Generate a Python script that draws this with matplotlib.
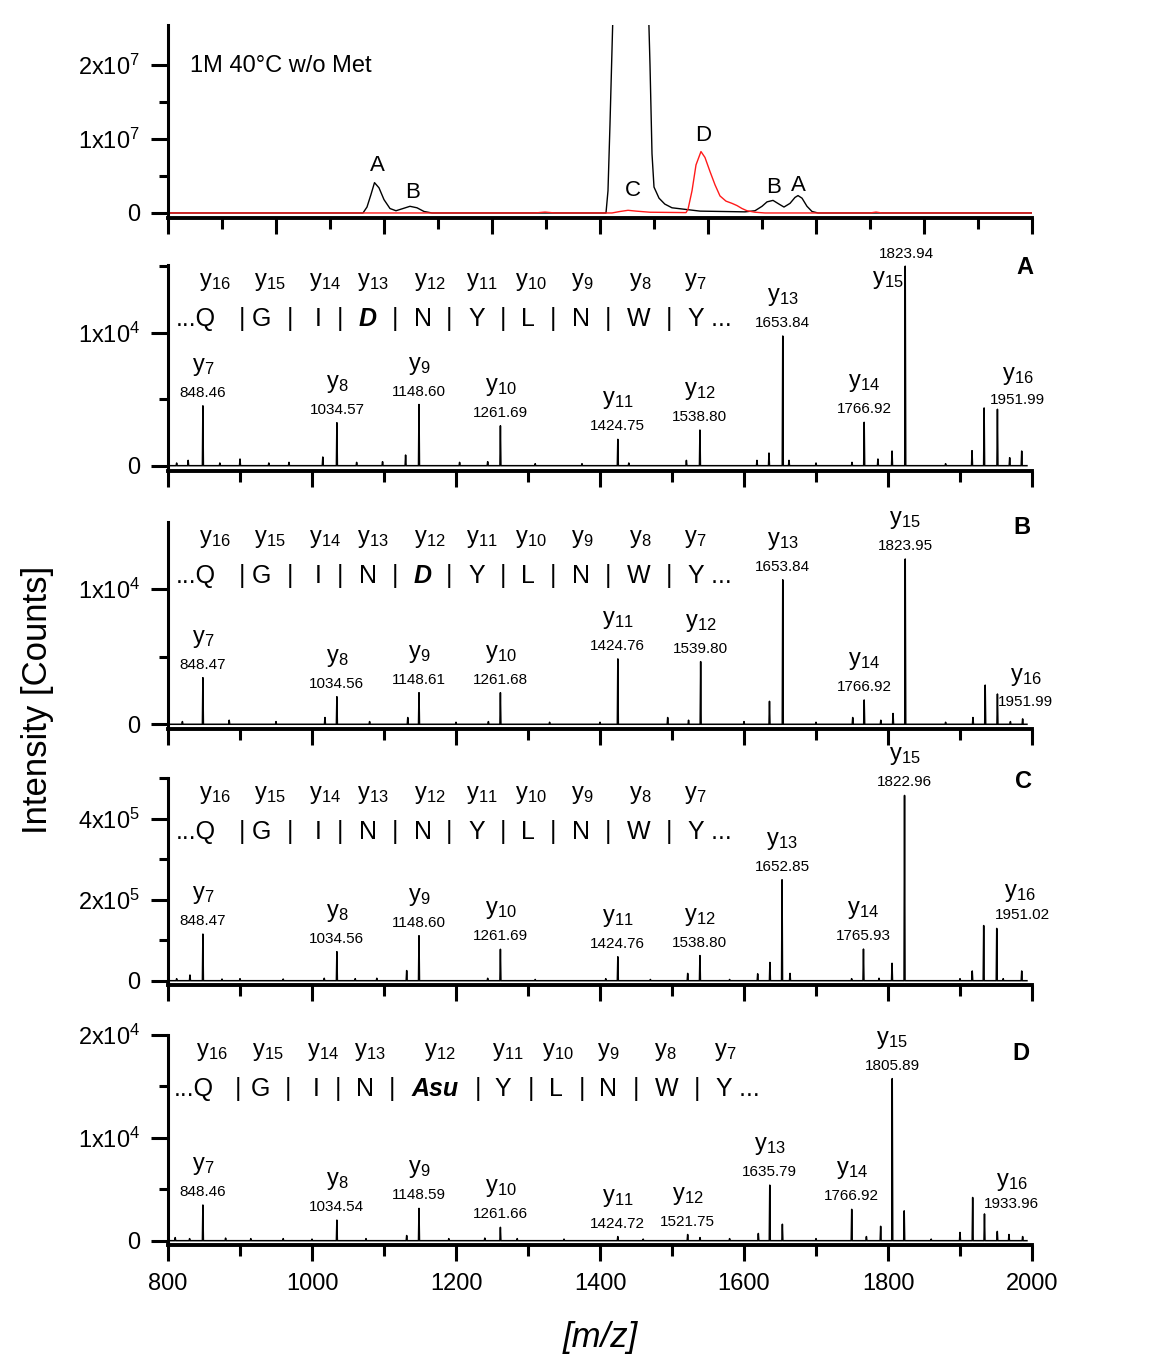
import numpy as np
import matplotlib
matplotlib.use('Agg')
import matplotlib.pyplot as plt

plt.rcParams['font.family'] = ['Liberation Sans', 'DejaVu Sans']
plt.rcParams['mathtext.fontset'] = 'custom'
plt.rcParams['mathtext.rm'] = 'Liberation Sans'
plt.rcParams['mathtext.it'] = 'Liberation Sans:italic'
plt.rcParams['mathtext.bf'] = 'Liberation Sans:bold'

# ---- chromatogram (top panel), retention time in arbitrary units, intensity in counts
lc_t_black = [0, 3.611, 3.685, 3.759, 3.824, 3.907, 4.0, 4.111, 4.222, 4.352, 4.481, 4.611, 4.741, 4.889,
              8.111, 8.148, 8.185, 8.222, 8.259, 8.37, 8.593, 8.796, 8.87, 8.926, 8.963, 9.0, 9.093,
              9.2, 9.333, 9.852, 10.685, 10.87, 11.0, 11.093, 11.204, 11.315, 11.407, 11.519, 11.611,
              11.667, 11.741, 11.833, 11.926, 12.037, 16]
lc_black = [0, 0, 0.08e7, 0.25e7, 0.41e7, 0.34e7, 0.18e7, 0.06e7, 0.03e7, 0.06e7, 0.09e7, 0.07e7, 0.02e7, 0,
            0, 0.3e7, 1.2e7, 2.2e7, 3.2e7, 5e7, 6e7, 5e7, 3.5e7, 2.0e7, 0.8e7, 0.35e7, 0.2e7,
            0.12e7, 0.07e7, 0.025e7, 0.015e7, 0.03e7, 0.09e7, 0.15e7, 0.17e7, 0.12e7, 0.08e7, 0.13e7, 0.21e7,
            0.235e7, 0.20e7, 0.09e7, 0.02e7, 0, 0]
lc_t_red = [0, 6.796, 6.981, 7.167, 8.222, 8.37, 8.519, 8.667, 8.926, 9.593, 9.63, 9.704, 9.778, 9.87,
            9.944, 10.037, 10.13, 10.222, 10.333, 10.444, 10.537, 10.63, 10.722, 10.87, 11.056,
            13.0, 13.111, 13.222, 16]
lc_red = [0, 0, 0.012e7, 0, 0, 0.02e7, 0.036e7, 0.025e7, 0.01e7, 0.005e7, 0.05e7, 0.3e7, 0.65e7, 0.83e7,
          0.75e7, 0.56e7, 0.38e7, 0.23e7, 0.16e7, 0.13e7, 0.10e7, 0.06e7, 0.03e7, 0.01e7, 0,
          0, 0.012e7, 0, 0]
lc_labels = ['A', 'B', 'C', 'D', 'B', 'A']
lc_label_t = [3.87, 4.52, 8.61, 9.91, 11.22, 11.67]
lc_label_y = [0.635e7, 0.27e7, 0.31e7, 1.05e7, 0.34e7, 0.365e7]

# ---- MS/MS spectra: labelled y ions
ions = [7, 8, 9, 10, 11, 12, 13, 14, 15, 16]

mz_A = [848.46, 1034.57, 1148.60, 1261.69, 1424.75, 1538.80, 1653.84, 1766.92, 1823.94, 1951.99]
int_A = [4500, 3230, 4600, 3000, 1980, 2680, 9750, 3260, 15000, 4240]
lab_A = ['848.46', '1034.57', '1148.60', '1261.69', '1424.75', '1538.80', '1653.84', '1766.92', '1823.94', '1951.99']
minor_mz_A = [812, 828, 872, 900, 940, 968, 1015, 1062, 1098, 1130, 1205, 1244, 1310, 1375, 1440, 1520,
              1618, 1634.7, 1662.5, 1700, 1750, 1786, 1805.6, 1880, 1916.7, 1933.5, 1969, 1985.7]
minor_int_A = [200, 400, 200, 500, 200, 250, 650, 250, 300, 800, 250, 300, 150, 150, 200, 400,
               400, 950, 400, 200, 250, 500, 1100, 150, 1130, 4340, 600, 1100]

mz_B = [848.47, 1034.56, 1148.61, 1261.68, 1424.76, 1539.80, 1653.84, 1766.92, 1823.95, 1951.99]
int_B = [3450, 2040, 2340, 2340, 4840, 4640, 10700, 1800, 12240, 2240]
lab_B = ['848.47', '1034.56', '1148.61', '1261.68', '1424.76', '1539.80', '1653.84', '1766.92', '1823.95', '1951.99']
minor_mz_B = [820, 885, 950, 1018, 1080, 1133, 1200, 1245, 1330, 1400, 1494, 1523, 1600, 1635.4, 1700,
              1751, 1790, 1807, 1880, 1918, 1935, 1970, 1987]
minor_int_B = [200, 300, 200, 500, 200, 500, 150, 200, 150, 150, 500, 300, 200, 1700, 150,
               500, 300, 800, 150, 500, 2900, 200, 400]

mz_C = [848.47, 1034.56, 1148.60, 1261.69, 1424.76, 1538.80, 1652.85, 1765.93, 1822.96, 1951.02]
int_C = [1.15e5, 0.716e5, 1.11e5, 0.775e5, 0.59e5, 0.62e5, 2.49e5, 0.78e5, 4.57e5, 1.29e5]
lab_C = ['848.47', '1034.56', '1148.60', '1261.69', '1424.76', '1538.80', '1652.85', '1765.93', '1822.96', '1951.02']
minor_mz_C = [812, 830.5, 875, 900, 960, 1017, 1060, 1090, 1131.5, 1244, 1310, 1408, 1470, 1521.8, 1580,
              1619, 1636, 1663.9, 1749.5, 1787.5, 1805.6, 1900, 1917, 1932.9, 1960, 1985.7]
minor_int_C = [0.05e5, 0.14e5, 0.04e5, 0.05e5, 0.04e5, 0.06e5, 0.05e5, 0.06e5, 0.25e5, 0.06e5, 0.03e5,
               0.05e5, 0.03e5, 0.18e5, 0.03e5, 0.17e5, 0.45e5, 0.18e5, 0.05e5, 0.06e5, 0.43e5, 0.05e5,
               0.24e5, 1.36e5, 0.05e5, 0.24e5]

mz_D = [848.46, 1034.54, 1148.59, 1261.66, 1424.72, 1521.75, 1635.79, 1749.6, 1805.89, 1934.0]
int_D = [3470, 2000, 3140, 1300, 400, 600, 5400, 3050, 15760, 2600]
lab_D = ['848.46', '1034.54', '1148.59', '1261.66', '1424.72', '1521.75', '1635.79', '1766.92', '1805.89', '1933.96']
minor_mz_D = [810, 830, 880, 915, 960, 1000, 1075, 1131.5, 1190, 1240, 1285, 1350, 1460, 1538.9,
              1580, 1619.9, 1653.3, 1700, 1770, 1789.8, 1822.5, 1860, 1900, 1917.6, 1951.8, 1968, 1987]
minor_int_D = [300, 200, 250, 200, 200, 150, 200, 500, 200, 250, 200, 150, 150, 300,
               200, 700, 1600, 200, 400, 1400, 2900, 150, 800, 4200, 900, 600, 400]

# ---- sequence rows (x in m/z units)
seq_ABC_ion_x = [865.3, 941.7, 1018.1, 1084.7, 1163.9, 1236.1, 1304.2, 1375.0, 1455.6, 1531.9]
seq_ABC_tok_x = [838.9, 902.4, 930.1, 969.4, 1008.3, 1038.9, 1077.8, 1115.3, 1154.2, 1190.3, 1228.7,
                 1264.9, 1300.0, 1334.7, 1373.2, 1411.1, 1454.2, 1495.8, 1552.1]
seq_D_ion_x = [861.1, 938.9, 1015.3, 1080.6, 1177.8, 1272.2, 1341.7, 1411.1, 1490.3, 1573.6]
seq_D_tok_x = [836.1, 897.2, 927.8, 966.7, 1005.6, 1036.1, 1073.6, 1111.1, 1170.8, 1230.6, 1265.3,
               1304.2, 1338.9, 1375.0, 1411.1, 1450.0, 1493.1, 1534.7, 1591.0]
seq_ion_names = [16, 15, 14, 13, 12, 11, 10, 9, 8, 7]
seq_A = ['...Q', '|', 'G', '|', 'I', '|', 'D', '|', 'N', '|', 'Y', '|', 'L', '|', 'N', '|', 'W', '|', 'Y ...']
seq_B = ['...Q', '|', 'G', '|', 'I', '|', 'N', '|', 'D', '|', 'Y', '|', 'L', '|', 'N', '|', 'W', '|', 'Y ...']
seq_C = ['...Q', '|', 'G', '|', 'I', '|', 'N', '|', 'N', '|', 'Y', '|', 'L', '|', 'N', '|', 'W', '|', 'Y ...']
seq_D = ['...Q', '|', 'G', '|', 'I', '|', 'N', '|', 'Asu', '|', 'Y', '|', 'L', '|', 'N', '|', 'W', '|', 'Y ...']

W, H = 1151, 1368
PT = 0.72  # points per pixel at 100 dpi
fig = plt.figure(figsize=(W / 100, H / 100), dpi=100)
fig.patch.set_facecolor('white')


def make_axes(top, bottom):
    ax = fig.add_axes([168 / W, 1 - bottom / H, 864 / W, (bottom - top) / H])
    ax.spines['top'].set_visible(False)
    ax.spines['right'].set_visible(False)
    ax.spines['left'].set_linewidth(2.2)
    ax.spines['bottom'].set_linewidth(2.8)
    ax.tick_params(axis='y', which='major', length=12, width=2.2, direction='out', labelsize=17, pad=8)
    ax.tick_params(axis='y', which='minor', length=6.5, width=2.2, direction='out')
    ax.tick_params(axis='x', which='major', length=11.5, width=2.2, direction='out', labelsize=17, pad=9)
    ax.tick_params(axis='x', which='minor', length=8, width=2.2, direction='out')
    return ax


def spectrum(ax, mz, inten, minor_mz, minor_int):
    m = np.concatenate([mz, minor_mz])
    h = np.concatenate([inten, minor_int])
    order = np.argsort(m)
    xs, ys = [800.0], [0.0]
    for mm, hh in zip(m[order], h[order]):
        xs += [mm - 0.7, mm, mm + 0.7]
        ys += [0, hh, 0]
    xs.append(1993.0)
    ys.append(0.0)
    ax.plot(xs, ys, color='black', lw=1.1)
    ax.set_xlim(800, 2000)
    ax.set_xticks(np.arange(800, 2001, 200))
    ax.set_xticks(np.arange(900, 2000, 200), minor=True)


def label_peaks(ax, mz, inten, labels, special):
    for ion, m, h, lab in zip(ions, mz, inten, labels):
        ndx, ndy, idx, idy = special.get(ion, (0, 13, 0, 39))
        ax.annotate(lab, (m, h), xytext=(ndx * PT, ndy * PT), textcoords='offset points',
                    ha='center', va='center', fontsize=11)
        ax.annotate(r'$\mathrm{y}_{%d}$' % ion, (m, h), xytext=(idx * PT, idy * PT),
                    textcoords='offset points', ha='center', va='center', fontsize=17)


def sequence(ax, ion_x, tok_x, toks):
    for x, n in zip(ion_x, seq_ion_names):
        ax.annotate(r'$\mathrm{y}_{%d}$' % n, (x, 1), xycoords=('data', 'axes fraction'),
                    xytext=(0, -21 * PT), textcoords='offset points', ha='center', va='baseline',
                    fontsize=17)
    for x, t in zip(tok_x, toks):
        bold = t in ('D', 'Asu')
        ax.annotate(t, (x, 1), xycoords=('data', 'axes fraction'),
                    xytext=(0, -61 * PT), textcoords='offset points', ha='center', va='baseline',
                    fontsize=18, fontweight='bold' if bold else 'normal',
                    fontstyle='italic' if bold else 'normal')


def panel_letter(ax, letter, xf, dy):
    ax.annotate(letter, (xf, 1), xycoords='axes fraction', xytext=(0, -dy * PT),
                textcoords='offset points', ha='center', va='center', fontsize=17, fontweight='bold')


# ---- top chromatogram
ax0 = make_axes(25, 218)
ax0.plot(lc_t_black, lc_black, color='black', lw=1.0)
ax0.plot(lc_t_red, lc_red, color='#ff1a1a', lw=1.0)
ax0.set_xlim(0, 16)
ax0.set_ylim(-0.068e7, 2.54e7)
ax0.set_xticks(np.arange(0, 17, 2))
ax0.set_xticks(np.arange(1, 16, 2), minor=True)
ax0.tick_params(axis='x', labelbottom=False)
ax0.set_yticks([0, 1e7, 2e7])
ax0.set_yticklabels(['0', r'1x10$^{7}$', r'2x10$^{7}$'])
ax0.set_yticks([0.5e7, 1.5e7], minor=True)
for lab, t, y in zip(lc_labels, lc_label_t, lc_label_y):
    ax0.text(t, y, lab, ha='center', va='center', fontsize=16)
ax0.text(0.0255, 0.788, '1M 40\u00b0C w/o Met', transform=ax0.transAxes, ha='left', va='center', fontsize=17)

# ---- panel A
axA = make_axes(265, 471)
spectrum(axA, mz_A, int_A, minor_mz_A, minor_int_A)
axA.set_ylim(-400, 15090)
axA.set_yticks([0, 1e4])
axA.set_yticklabels(['0', r'1x10$^{4}$'])
axA.set_yticks([5000, 15000], minor=True)
axA.tick_params(axis='x', labelbottom=False)
label_peaks(axA, mz_A, int_A, lab_A, {15: (1, 12, -17, -14), 16: (20, 9, 20, 33)})
sequence(axA, seq_ABC_ion_x, seq_ABC_tok_x, seq_A)
panel_letter(axA, 'A', 0.992, 3)

# ---- panel B
axB = make_axes(522, 729)
spectrum(axB, mz_B, int_B, minor_mz_B, minor_int_B)
axB.set_ylim(-350, 14980)
axB.set_yticks([0, 1e4])
axB.set_yticklabels(['0', r'1x10$^{4}$'])
axB.set_yticks([5000], minor=True)
axB.tick_params(axis='x', labelbottom=False)
label_peaks(axB, mz_B, int_B, lab_B, {16: (28, -8, 28, 17)})
sequence(axB, seq_ABC_ion_x, seq_ABC_tok_x, seq_B)
panel_letter(axB, 'B', 0.988, 5)

# ---- panel C
axC = make_axes(778, 985)
spectrum(axC, mz_C, int_C, minor_mz_C, minor_int_C)
axC.set_ylim(-0.106e5, 5.0e5)
axC.set_yticks([0, 2e5, 4e5])
axC.set_yticklabels(['0', r'2x10$^{5}$', r'4x10$^{5}$'])
axC.set_yticks([1e5, 3e5, 5e5], minor=True)
axC.tick_params(axis='x', labelbottom=False)
label_peaks(axC, mz_C, int_C, lab_C, {16: (26, 13, 23, 35)})
sequence(axC, seq_ABC_ion_x, seq_ABC_tok_x, seq_C)
panel_letter(axC, 'C', 0.9907, 3)

# ---- panel D
axD = make_axes(1035, 1245)
spectrum(axD, mz_D, int_D, minor_mz_D, minor_int_D)
axD.set_ylim(-420, 19970)
axD.set_yticks([0, 1e4, 2e4])
axD.set_yticklabels(['0', r'1x10$^{4}$', r'2x10$^{4}$'])
axD.set_yticks([5000, 15000], minor=True)
label_peaks(axD, mz_D, int_D, lab_D, {16: (27, 10, 27, 32)})
sequence(axD, seq_D_ion_x, seq_D_tok_x, seq_D)
panel_letter(axD, 'D', 0.987, 18)

fig.text(38 / W, 1 - 700 / H, 'Intensity [Counts]', rotation=90, ha='center', va='center', fontsize=25)
fig.text(600 / W, 1 - 1337 / H, '[m/z]', style='italic', ha='center', va='center', fontsize=25)

fig.savefig('out.png', dpi=100)
